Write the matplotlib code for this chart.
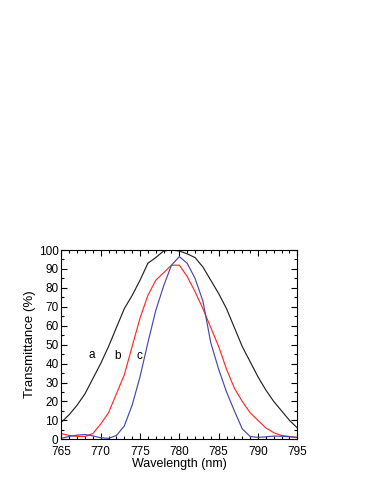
import numpy as np
import matplotlib.pyplot as plt
from matplotlib.ticker import MultipleLocator

plt.rcParams['font.family'] = ['Liberation Sans', 'DejaVu Sans']

# wavelength (nm)
wl = np.arange(765, 796)

# curve a (black)
ta = [9, 13, 18, 24, 32, 40, 49, 59, 69, 76, 84, 93, 96, 99.5, 100, 99.5,
      98, 96, 91, 84, 77, 69, 59, 49, 41, 33, 26, 20, 15, 10, 6]
# curve b (red)
tb = [3, 2, 1.5, 1.5, 3, 8, 14, 24, 34, 49, 64, 76, 84, 88, 92, 92,
      86, 78, 69, 59, 49, 37, 27, 20, 14, 10, 6, 3.5, 2, 1.5, 1]
# curve c (blue)
tc = [0.5, 1.5, 2.2, 2.5, 1.8, 0.8, 0.5, 2, 7, 18, 33, 51, 68, 81, 92, 96.5,
      93, 85, 73, 51, 37, 25, 15, 5.5, 1.5, 1, 1.3, 1.7, 1.6, 1.3, 1]

labels = ['a', 'b', 'c']
label_x = [768.9, 772.2, 774.9]
label_y = [44.5, 44, 44]

fig = plt.figure(figsize=(3.74, 4.84), dpi=100)
ax = fig.add_axes([0.164, 0.0924, 0.631, 0.391])

ax.plot(wl, ta, color='#222222', lw=0.85)
ax.plot(wl, tb, color='#ff2a2a', lw=0.85)
ax.plot(wl, tc, color='#4848a8', lw=0.85)

for s, x, y in zip(labels, label_x, label_y):
    ax.text(x, y, s, fontsize=8.5, ha='center', va='center')

ax.set_xlim(765, 795)
ax.set_ylim(0, 100)
ax.xaxis.set_major_locator(MultipleLocator(5))
ax.xaxis.set_minor_locator(MultipleLocator(1))
ax.yaxis.set_major_locator(MultipleLocator(10))
ax.yaxis.set_minor_locator(MultipleLocator(5))
ax.tick_params(which='both', direction='in', top=True, right=True,
               labelsize=8.5, width=0.8)
ax.tick_params(axis='x', pad=5)
ax.tick_params(axis='y', pad=2)
ax.tick_params(which='major', length=4)
ax.tick_params(which='minor', length=2)
for t in ax.get_yticklabels():
    t.set_verticalalignment('center_baseline')
for sp in ax.spines.values():
    sp.set_linewidth(0.8)

ax.set_xlabel('Wavelength (nm)', fontsize=9, labelpad=0)
ax.set_ylabel('Transmittance (%)', fontsize=9.5, labelpad=2)

fig.savefig('out.png', dpi=100)
